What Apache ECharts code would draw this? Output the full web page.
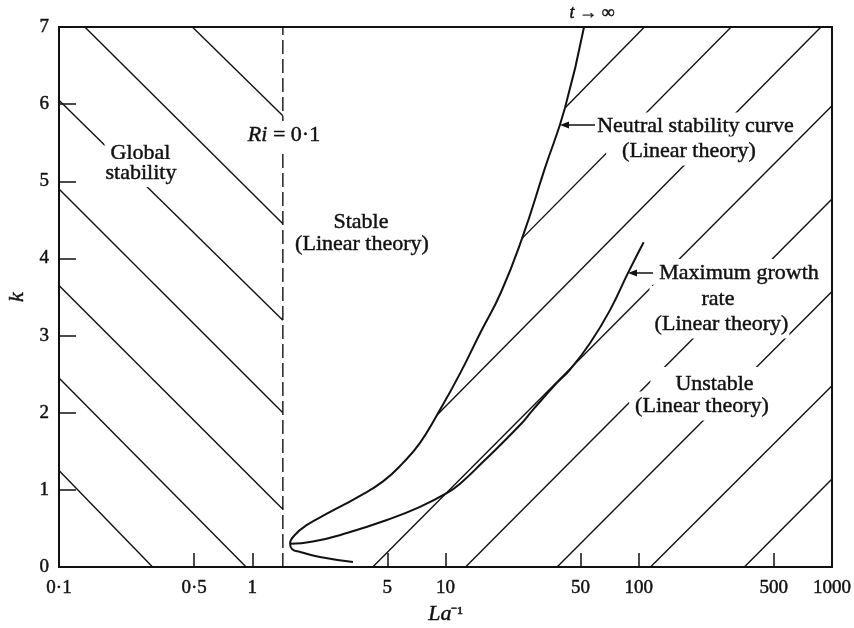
<!DOCTYPE html>
<html><head><meta charset="utf-8">
<script src="https://cdn.jsdelivr.net/npm/echarts@6/dist/echarts.min.js"></script>
<style>html,body{margin:0;padding:0;background:#fff}#c{width:854px;height:628px}</style>
</head><body><div id="c"></div>
<script>
// ---- data ----
const xTickLabels = [0.1, 0.5, 1, 5, 10, 50, 100, 500, 1000];
const xTickMarks = [0.1, 0.5, 1, 5, 10, 50, 100, 500, 1000];
const yTickLabels = [0, 1, 2, 3, 4, 5, 6, 7];
const riLineX = 1.44;            // Ri = 0.1 boundary
const neutralCurve = [
  [3.32,0.065],[2.24,0.13],[1.77,0.195],[1.61,0.23],[1.57,0.30],[1.66,0.415],[1.92,0.545],
  [2.53,0.713],[3.48,0.90],[4.75,1.11],[6.03,1.35],[7.38,1.61],[9.04,1.97],[11.9,2.51],
  [15.1,3.03],[19.4,3.565],[24.9,4.26],[32.7,5.17],[41.5,5.95],[52.1,7.0]
];
const maxGrowthCurve = [
  [1.57,0.30],[2.06,0.33],[3.09,0.44],[4.98,0.61],[7.38,0.78],[10.2,0.96],[11.9,1.08],
  [15.6,1.36],[24.3,1.84],[28.4,2.04],[37.8,2.39],[44.1,2.56],[55.9,2.90],[71.0,3.33],
  [87.9,3.81],[106,4.21]
];
const globalHatch = [
  [[0.1,1.25],[0.305,0]],
  [[0.1,2.45],[0.93,0]],
  [[0.1,3.65],[1.44,0.75]],
  [[0.1,4.9],[1.44,2.0]],
  [[0.1,6.05],[1.44,3.2]],
  [[0.136,7],[1.44,4.45]],
  [[0.49,7],[1.44,5.85]]
];
const unstableHatch = [
  [[41.5,5.95],[107,7]],
  [[24.9,4.26],[301,7]],
  [[9.04,1.97],[877,7]],
  [[4.2,0],[1000,5.98]],
  [[12.7,0],[1000,4.77]],
  [[37.8,0],[1000,3.57]],
  [[115,0],[1000,2.35]],
  [[352,0],[1000,1.14]]
];

// ---- chart ----
const FF = '"Liberation Serif", "Times New Roman", serif';
const INK = '#111';
const TB = 0.45; // slight text weight
const fmt = v => String(v).replace('.', '\u00b7');

const series = [];
globalHatch.concat(unstableHatch).forEach(seg => {
  series.push({type:'line', data: seg, symbol:'none', silent:true, z:2,
    lineStyle:{color:INK, width:1.4}});
});
series.push({type:'line', data:[[riLineX,0],[riLineX,7]], symbol:'none', silent:true, z:2,
  lineStyle:{color:INK, width:1.4, type:[14,5]}});
series.push({type:'line', data: neutralCurve, symbol:'none', smooth:0.5, silent:true, z:3,
  lineStyle:{color:INK, width:2}});
series.push({type:'line', data: maxGrowthCurve, symbol:'none', smooth:0.5, silent:true, z:3,
  lineStyle:{color:INK, width:2}});

function txt(text, x, y, pad, extra) {
  return Object.assign({
    type:'text', z:100, silent:true,
    style:{text, x, y, align:'center', verticalAlign:'middle', fill:INK, stroke:INK, lineWidth:TB,
      fontSize:22, fontFamily:FF, backgroundColor: pad ? '#fff' : null, padding: pad || 0}
  }, extra || {});
}

const graphic = [
  txt('Global', 139, 153, [4,3,0,6]),
  txt('stability', 140, 173, [0,4,6,6]),
  {type:'text', z:100, silent:true, style:{text:'{i|Ri} = 0\u00b71', x:284, y:135, align:'center',
    verticalAlign:'middle', fill:INK, stroke:INK, lineWidth:TB, fontSize:22, fontFamily:FF, backgroundColor:'#fff', padding:[3,3,3,3],
    rich:{i:{fontStyle:'italic', fontSize:22, fontFamily:FF, fill:INK}}}},
  txt('Stable', 361, 222),
  txt('(Linear theory)', 362, 244),
  {type:'text', z:100, silent:true, style:{text:'{i|t} \u2192 \u221e', x:592, y:13, align:'center',
    verticalAlign:'middle', fill:INK, stroke:INK, lineWidth:TB, fontSize:18, fontFamily:FF,
    rich:{i:{fontStyle:'italic', fontSize:18, fontFamily:FF, fill:INK}}}},
  txt('Neutral stability curve', 696, 126, [3,4,2,3]),
  txt('(Linear theory)', 683, 151, [2,4,5,16]),
  txt('Maximum growth', 738, 273, [4,4,2,6]),
  txt('rate', 718, 299, [2,52,2,52]),
  txt('(Linear theory)', 719, 324, [3,1,4,6]),
  txt('Unstable', 706, 384, [9,8,3,25]),
  txt('(Linear theory)', 701, 406, [3,4,4,6]),
  // arrows
  {type:'line', z:100, silent:true, shape:{x1:566, y1:125, x2:595, y2:125}, style:{stroke:INK, lineWidth:1.5}},
  {type:'polygon', z:100, silent:true, shape:{points:[[560,125],[569,121.5],[569,128.5]]}, style:{fill:INK}},
  {type:'line', z:100, silent:true, shape:{x1:634, y1:273, x2:653, y2:273}, style:{stroke:INK, lineWidth:1.5}},
  {type:'polygon', z:100, silent:true, shape:{points:[[628,273],[637,269.5],[637,276.5]]}, style:{fill:INK}}
];

const chart = echarts.init(document.getElementById('c'), null, {renderer:'canvas'});
chart.setOption({
  animation:false,
  backgroundColor:'#fff',
  grid:{left:59, right:22, top:27, bottom:61, show:true, borderColor:INK, borderWidth:2,
    backgroundColor:'transparent', containLabel:false, outerBoundsMode:'none'},
  xAxis:{
    type:'log', logBase:10, min:0.1, max:1000,
    axisLine:{show:false}, splitLine:{show:false}, minorTick:{show:false}, minorSplitLine:{show:false},
    axisTick:{show:true, inside:true, length:14, customValues:xTickMarks, lineStyle:{color:INK, width:1.5}},
    axisLabel:{customValues:xTickLabels, formatter:v => fmt(v), margin:12, color:INK, fontSize:19, fontFamily:FF,
      textBorderColor:INK, textBorderWidth:TB},
    name:'{i|La}\u207b\u00b9', nameLocation:'middle', nameGap:34,
    nameTextStyle:{color:INK, fontSize:18, fontFamily:FF, textBorderColor:INK, textBorderWidth:TB,
      rich:{i:{fontStyle:'italic', fontSize:22, fontFamily:FF, color:INK}}}
  },
  yAxis:{
    type:'value', min:0, max:7, interval:1,
    axisLine:{show:false}, splitLine:{show:false},
    axisTick:{show:true, inside:true, length:17, lineStyle:{color:INK, width:1.5}},
    axisLabel:{margin:10, color:INK, fontSize:19, fontFamily:FF, textBorderColor:INK, textBorderWidth:TB,
      customValues:yTickLabels, formatter:v => String(v)},
    name:'k', nameLocation:'middle', nameGap:30,
    nameTextStyle:{color:INK, fontSize:22, fontStyle:'italic', fontFamily:FF, textBorderColor:INK, textBorderWidth:TB}
  },
  series,
  graphic
});
</script></body></html>
